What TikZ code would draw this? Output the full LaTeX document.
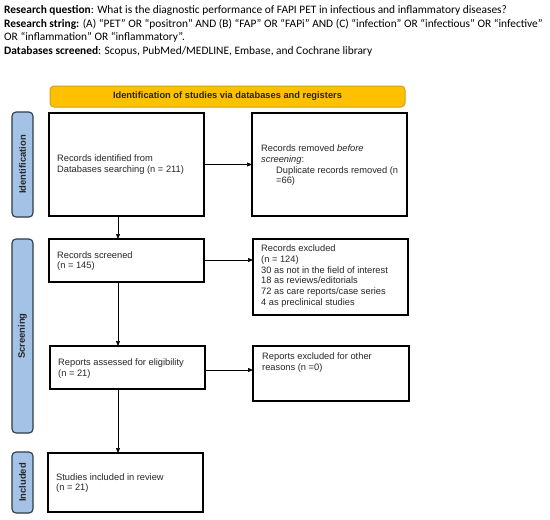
\documentclass[tikz,border=0pt]{standalone}
\usepackage{fontspec}
\setmainfont{Liberation Sans}
\newfontfamily\hdrfont{Carlito}
\usetikzlibrary{arrows.meta,calc}
\definecolor{sidefill}{HTML}{A3C2E6}
\definecolor{sidedraw}{HTML}{2E3B4B}
\definecolor{banfill}{HTML}{FFC000}
\definecolor{bandraw}{HTML}{D4A017}
\tikzset{
  box/.style={draw=black,line width=1.1pt,minimum width=#1,inner sep=0pt,outer sep=0pt},
  side/.style={draw=sidedraw,fill=sidefill,line width=1.1pt,rounded corners=4pt},
  sidetxt/.style={rotate=90,font=\fontsize{9.4}{10}\selectfont\bfseries,text=black!85},
  txt/.style={anchor=west,align=left,inner sep=0pt,font=\fontsize{9.3}{10.7}\selectfont,text=black!85},
  hdr/.style={anchor=west,inner sep=0pt,font=\hdrfont\fontsize{11.4}{13}\selectfont},
  arr/.style={line width=0.7pt,-{Triangle[length=5pt,width=4pt]}},
}
\begin{document}
\begin{tikzpicture}[x=1pt,y=-1pt]
\useasboundingbox[fill=white] (0,0) rectangle (550,520);
% header
\node[hdr] (h1) at (4,10.5) {\textbf{Research question}: What is the diagnostic performance of FAPI PET in infectious and inflammatory diseases?};
\node[hdr] (h2) at (4,24) {\textbf{Research string:} (A) “PET” OR “positron” AND (B) “FAP” OR “FAPi” AND (C) “infection” OR “infectious” OR “infective”};
\node[hdr] (h3) at (4,37.5) {OR “inflammation” OR “inflammatory”.};
\node[hdr] (h4) at (4,51.5) {\textbf{Databases screened}: Scopus, PubMed/MEDLINE, Embase, and Cochrane library};
% banner
\draw[fill=banfill,draw=bandraw,line width=1pt,rounded corners=4pt] (50,86) rectangle (405,107);
\node[font=\fontsize{9.3}{10}\selectfont\bfseries,text=black!85] (ban) at (227.5,96.5) {Identification of studies via databases and registers};
% sidebars
\draw[side] (12,112) rectangle (33,217);
\node[sidetxt] (s1) at (22.5,164.5) {Identification};
\draw[side] (12,239) rectangle (33,433);
\node[sidetxt] (s2) at (22.5,336) {Screening};
\draw[side] (12,452) rectangle (33,513);
\node[sidetxt] (s3) at (22.5,482.5) {Included};
% boxes
\node[box=155pt,minimum height=103pt] (b1) at (126.5,164.5) {};
\node[box=155pt,minimum height=103pt] (b2) at (329.5,164.5) {};
\node[box=155pt,minimum height=43pt] (b3) at (126.5,260.5) {};
\node[box=155pt,minimum height=76pt] (b5) at (330.5,277) {};
\node[box=155pt,minimum height=43pt] (b4) at (127.5,367.5) {};
\node[box=156pt,minimum height=55pt] (b6) at (331,373.5) {};
\node[box=155pt,minimum height=59pt] (b7) at (125.5,482.5) {};
% texts
\node[txt] (t1) at (57,164.5) {Records identified from\\Databases searching (n = 211)};
\node[txt] (t2) at (261,165.5) {Records removed \textit{before}\\\textit{screening}:\\\hspace{15pt}Duplicate records removed (n\\\hspace{15pt}=66)};
\node[txt] (t3) at (57,261) {Records screened\\(n = 145)};
\node[txt] (t5) at (261,276) {Records excluded\\(n = 124)\\30 as not in the field of interest\\18 as reviews/editorials\\72 as care reports/case series\\4 as preclinical studies};
\node[txt] (t4) at (58,368.5) {Reports assessed for eligibility\\(n = 21)};
\node[txt] (t6) at (262,362.5) {Reports excluded for other\\reasons (n =0)};
\node[txt] (t7) at (56,483) {Studies included in review\\(n = 21)};
% connectors
\coordinate (sp) at (118,0);
\draw[arr] (b1.east) -- (b2.west);
\draw[arr] ($(b3.east)+(0,-0.5)$) -- ($(b3.east -| b5.west)+(0,-0.5)$);
\draw[arr] ($(b4.east)+(0,2.5)$) -- ($(b4.east -| b6.west)+(0,2.5)$);
\draw[arr] (b1.south -| sp) -- (b3.north -| sp);
\draw[arr] (b3.south -| sp) -- (b4.north -| sp);
\draw[arr] (b4.south -| sp) -- (b7.north -| sp);
\end{tikzpicture}
\end{document}
